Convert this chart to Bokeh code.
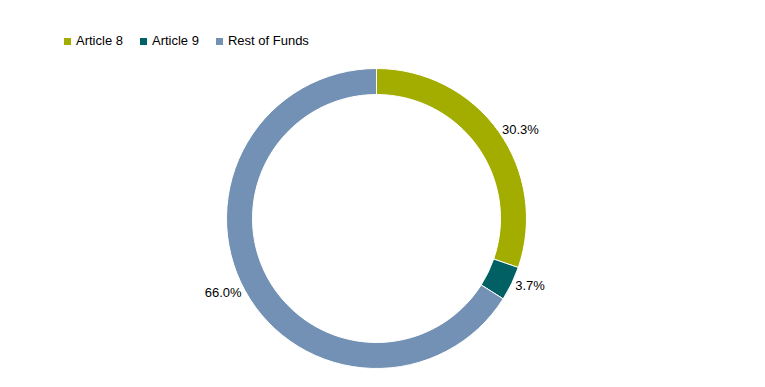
import math
from bokeh.plotting import figure
from bokeh.models import Range1d, ColumnDataSource, Legend, LegendItem
from bokeh.embed import file_html
from bokeh.resources import INLINE

categories = ["Article 8", "Article 9", "Rest of Funds"]
shares = [30.3, 3.7, 66.0]
colors = ["#A2AD00", "#006064", "#7391B4"]

W, H = 749, 371
cx, cy = 376, 153
r_out, r_in, r_lab = 150, 124, 154

total = sum(shares)
starts, ends, lx, ly, la, texts = [], [], [], [], [], []
acc = 0.0
for s in shares:
    a0 = math.pi / 2 - acc / total * 2 * math.pi
    acc += s
    a1 = math.pi / 2 - acc / total * 2 * math.pi
    starts.append(a0)
    ends.append(a1)
    mid = (a0 + a1) / 2
    lx.append(cx + r_lab * math.cos(mid))
    ly.append(cy + r_lab * math.sin(mid))
    la.append("left" if math.cos(mid) > 0 else "right")
    texts.append(f"{s:.1f}%")

p = figure(width=W, height=H, output_backend="svg", toolbar_location=None,
           x_range=Range1d(0, W), y_range=Range1d(0, H),
           x_axis_type=None, y_axis_type=None, min_border=0)
p.grid.visible = False
p.outline_line_color = None
p.background_fill_color = "white"
p.border_fill_color = "white"

items = []
for i, c in enumerate(categories):
    r = p.annular_wedge(x=cx, y=cy, inner_radius=r_in, outer_radius=r_out,
                        start_angle=starts[i], end_angle=ends[i], direction="clock",
                        fill_color=colors[i], line_color="white", line_width=1)
    items.append(LegendItem(label=c, renderers=[r]))

src = ColumnDataSource(dict(x=lx, y=ly, t=texts, a=la))
p.text(x="x", y="y", text="t", text_align="a", text_baseline="middle",
       text_font_size="13px", text_font={"value": "Liberation Sans"},
       text_color="#000000", source=src)

legend = Legend(items=items, orientation="horizontal", location=(62, 323),
                glyph_width=10, glyph_height=10, label_height=12,
                label_standoff=4, spacing=15, padding=0, margin=0,
                label_text_font="Liberation Sans", label_text_font_size="13px",
                label_text_color="#000000",
                border_line_color=None, background_fill_alpha=0)
p.add_layout(legend, "center")

open("out.html", "w").write(file_html(p, INLINE))
